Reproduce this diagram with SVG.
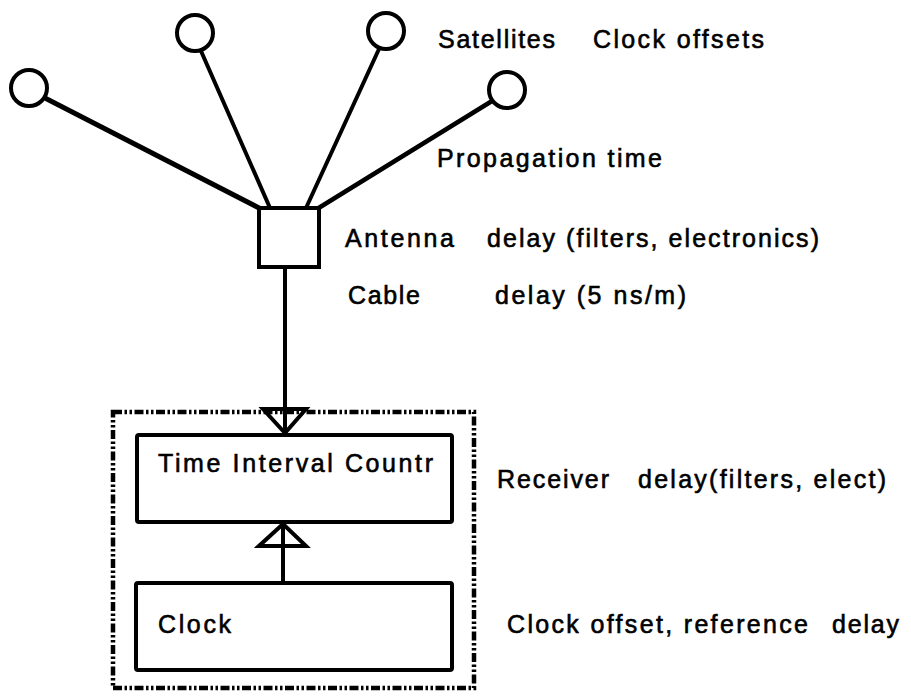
<svg xmlns="http://www.w3.org/2000/svg" width="911" height="696" viewBox="0 0 911 696">
<style>
  .ln { stroke:#000; stroke-width:4; fill:none; stroke-linecap:round; }
  .sat { stroke:#000; stroke-width:4; fill:#fff; }
  .box { stroke:#000; stroke-width:4; fill:#fff; }
  .tri { stroke:#000; stroke-width:4; fill:none; stroke-linejoin:miter; }
  .dash { stroke:#000; stroke-width:4.5; fill:none; stroke-dasharray:9 2.5 2.5 2.5 2.5 2.5; }
  .t { font-family:"Liberation Sans", Arial, sans-serif; font-size:25px; fill:#000; stroke:#000; stroke-width:0.6; }
</style>
<rect width="911" height="696" fill="#fff"/>

<g id="connectors">
  <line class="ln" x1="43" y1="97" x2="261" y2="209" style="stroke-width:5"/>
  <line class="ln" x1="201" y1="51" x2="270" y2="208"/>
  <line class="ln" x1="379" y1="49" x2="306" y2="208"/>
  <line class="ln" x1="492" y1="101" x2="317" y2="209" style="stroke-width:4.5"/>
  <line class="ln" x1="285" y1="267" x2="285" y2="433"/>
  <polygon class="tri" points="263,409 306,409 285,433"/>
  <line class="ln" x1="283" y1="524" x2="283" y2="583"/>
  <polygon class="tri" points="259,546 306,546 283,524"/>
</g>

<g id="sat1"><circle class="sat" cx="29" cy="88" r="18"/></g>
<g id="sat2"><circle class="sat" cx="195" cy="33" r="18"/></g>
<g id="sat3"><circle class="sat" cx="386" cy="31" r="18"/></g>
<g id="sat4"><circle class="sat" cx="507" cy="90" r="18"/></g>

<g id="antenna"><rect class="box" x="259" y="208" width="60" height="59"/></g>

<g id="receiver-boundary"><rect class="dash" x="113" y="412" width="361" height="276"/></g>

<g id="tic">
  <rect class="box" x="137" y="435" width="315" height="87" rx="2"/>
  <text class="t" x="158" y="472" textLength="275" lengthAdjust="spacing">Time Interval Countr</text>
</g>
<g id="clock">
  <rect class="box" x="136" y="583" width="316" height="87" rx="2"/>
  <text class="t" x="158" y="633" textLength="73" lengthAdjust="spacing">Clock</text>
</g>

<g id="labels">
  <text class="t" x="438" y="48" textLength="117" lengthAdjust="spacing">Satellites</text>
  <text class="t" x="593" y="48" textLength="171" lengthAdjust="spacing">Clock offsets</text>
  <text class="t" x="437" y="167" textLength="225" lengthAdjust="spacing">Propagation time</text>
  <text class="t" x="345" y="247" textLength="109" lengthAdjust="spacing">Antenna</text>
  <text class="t" x="487" y="247" textLength="332" lengthAdjust="spacing">delay (filters, electronics)</text>
  <text class="t" x="348" y="304" textLength="72" lengthAdjust="spacing">Cable</text>
  <text class="t" x="495" y="304" textLength="191" lengthAdjust="spacing">delay (5 ns/m)</text>
  <text class="t" x="497" y="488" textLength="112" lengthAdjust="spacing">Receiver</text>
  <text class="t" x="638" y="488" textLength="248" lengthAdjust="spacing">delay(filters, elect)</text>
  <text class="t" x="507" y="633" textLength="301" lengthAdjust="spacing">Clock offset, reference</text>
  <text class="t" x="832" y="633" textLength="67" lengthAdjust="spacing">delay</text>
</g>
</svg>
